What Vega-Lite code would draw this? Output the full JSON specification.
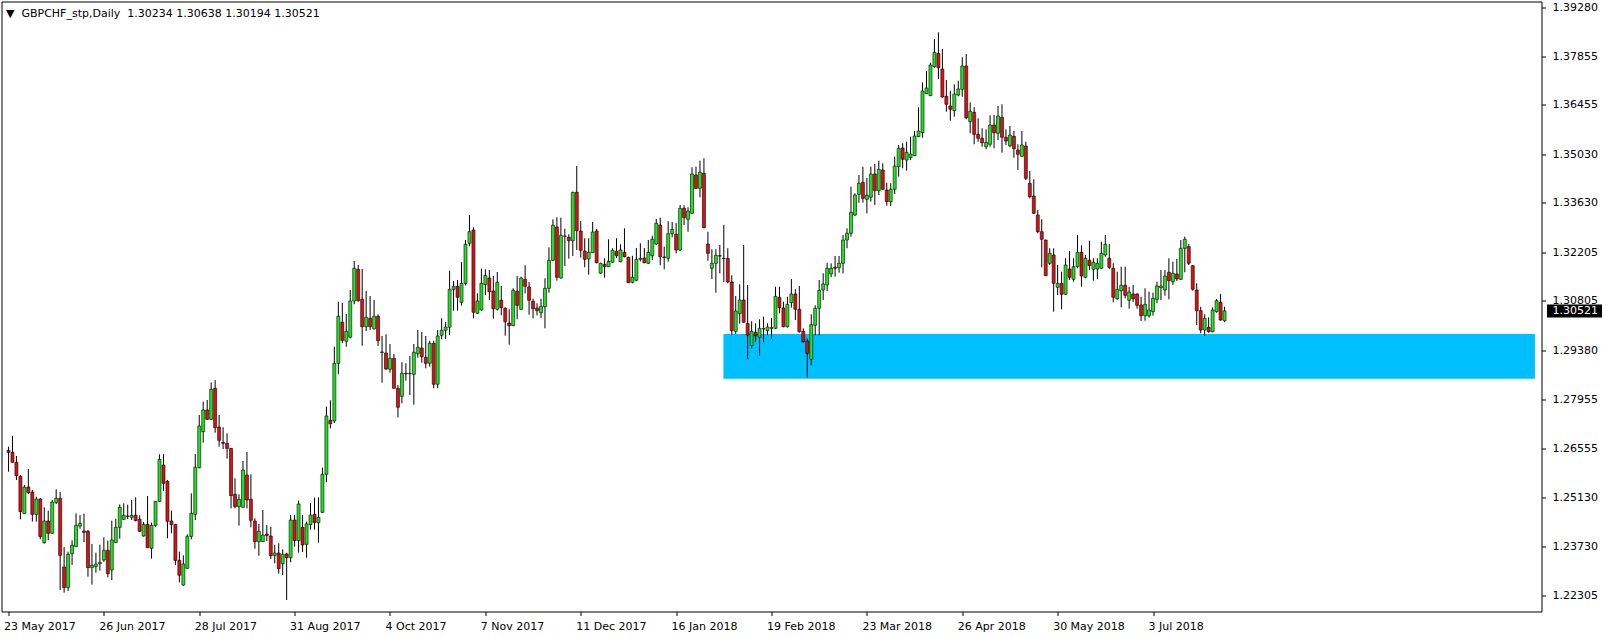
{
"$schema": "https://vega.github.io/schema/vega-lite/v6.json",
"autosize": {"type": "none"},
"padding": {"left": 1.5, "top": 1.5, "right": 62.5, "bottom": 26.5},
"width": 1540,
"height": 610,
"background": "white",
"config": {"view": {"stroke": "black", "strokeWidth": 1}},
"title": {"text": "▼\u00a0 GBPCHF_stp,Daily\u00a0 1.30234 1.30638 1.30194 1.30521", "anchor": "start", "frame": "group", "offset": -11, "dy": 13, "baseline": "middle", "dx": 4.5, "font": "DejaVu Sans", "fontSize": 11, "fontWeight": "normal", "color": "black"},
"datasets": {
"zone": [{"start": 179.9, "end": 384.1, "top": 1.29853, "bottom": 1.28564}],
"candles": [
{"i":0,"o":1.26499,"h":1.26604,"l":1.25883,"c":1.26441},
{"i":1,"o":1.26441,"h":1.26912,"l":1.26143,"c":1.26153},
{"i":2,"o":1.26153,"h":1.26335,"l":1.25643,"c":1.25768},
{"i":3,"o":1.25749,"h":1.25787,"l":1.24509,"c":1.24730},
{"i":4,"o":1.24673,"h":1.25499,"l":1.24663,"c":1.25441},
{"i":5,"o":1.25441,"h":1.25960,"l":1.25240,"c":1.25278},
{"i":6,"o":1.25297,"h":1.25355,"l":1.24442,"c":1.24653},
{"i":7,"o":1.24653,"h":1.25163,"l":1.24442,"c":1.25095},
{"i":8,"o":1.25095,"h":1.25124,"l":1.23933,"c":1.24010},
{"i":9,"o":1.23837,"h":1.24855,"l":1.23808,"c":1.24461},
{"i":10,"o":1.24461,"h":1.24759,"l":1.23913,"c":1.24106},
{"i":11,"o":1.24106,"h":1.25067,"l":1.24096,"c":1.25009},
{"i":12,"o":1.24999,"h":1.25374,"l":1.24951,"c":1.25115},
{"i":13,"o":1.25115,"h":1.25297,"l":1.22472,"c":1.23471},
{"i":14,"o":1.23135,"h":1.23712,"l":1.22395,"c":1.22539},
{"i":15,"o":1.22539,"h":1.23577,"l":1.22443,"c":1.23500},
{"i":16,"o":1.23519,"h":1.23904,"l":1.23193,"c":1.23760},
{"i":17,"o":1.23721,"h":1.24682,"l":1.23711,"c":1.24336},
{"i":18,"o":1.24317,"h":1.24634,"l":1.24240,"c":1.24394},
{"i":19,"o":1.24173,"h":1.24673,"l":1.23856,"c":1.24134},
{"i":20,"o":1.24163,"h":1.24202,"l":1.22856,"c":1.23116},
{"i":21,"o":1.23116,"h":1.23798,"l":1.22626,"c":1.23183},
{"i":22,"o":1.23145,"h":1.23548,"l":1.22972,"c":1.23222},
{"i":23,"o":1.23231,"h":1.23779,"l":1.23029,"c":1.23270},
{"i":24,"o":1.23337,"h":1.23990,"l":1.23279,"c":1.23616},
{"i":25,"o":1.23616,"h":1.23894,"l":1.22837,"c":1.22943},
{"i":26,"o":1.23048,"h":1.24471,"l":1.22760,"c":1.23913},
{"i":27,"o":1.23837,"h":1.24528,"l":1.23827,"c":1.24279},
{"i":28,"o":1.24279,"h":1.24942,"l":1.23952,"c":1.24855},
{"i":29,"o":1.24509,"h":1.24971,"l":1.24490,"c":1.24625},
{"i":30,"o":1.24596,"h":1.24932,"l":1.24519,"c":1.24605},
{"i":31,"o":1.24567,"h":1.25067,"l":1.24490,"c":1.24625},
{"i":32,"o":1.24625,"h":1.25143,"l":1.24452,"c":1.24471},
{"i":33,"o":1.24509,"h":1.24625,"l":1.24144,"c":1.24163},
{"i":34,"o":1.24029,"h":1.24432,"l":1.24010,"c":1.24365},
{"i":35,"o":1.24365,"h":1.25182,"l":1.23682,"c":1.23692},
{"i":36,"o":1.23673,"h":1.24413,"l":1.23375,"c":1.24336},
{"i":37,"o":1.24336,"h":1.25038,"l":1.24298,"c":1.25028},
{"i":38,"o":1.25028,"h":1.26383,"l":1.25009,"c":1.26239},
{"i":39,"o":1.26076,"h":1.26393,"l":1.25326,"c":1.25547},
{"i":40,"o":1.25605,"h":1.25643,"l":1.23961,"c":1.24452},
{"i":41,"o":1.24461,"h":1.24759,"l":1.24106,"c":1.24355},
{"i":42,"o":1.24365,"h":1.24375,"l":1.23193,"c":1.23327},
{"i":43,"o":1.23327,"h":1.23577,"l":1.22693,"c":1.22895},
{"i":44,"o":1.22616,"h":1.23471,"l":1.22597,"c":1.23222},
{"i":45,"o":1.23097,"h":1.24077,"l":1.23087,"c":1.24019},
{"i":46,"o":1.24019,"h":1.25259,"l":1.23933,"c":1.24682},
{"i":47,"o":1.24654,"h":1.26393,"l":1.24490,"c":1.26009},
{"i":48,"o":1.25999,"h":1.27517,"l":1.25980,"c":1.27200},
{"i":49,"o":1.27037,"h":1.27902,"l":1.26720,"c":1.27662},
{"i":50,"o":1.27662,"h":1.27950,"l":1.27373,"c":1.27392},
{"i":51,"o":1.27392,"h":1.28459,"l":1.27373,"c":1.28257},
{"i":52,"o":1.28286,"h":1.28526,"l":1.27008,"c":1.27152},
{"i":53,"o":1.27171,"h":1.27517,"l":1.26604,"c":1.26787},
{"i":54,"o":1.26729,"h":1.27162,"l":1.26537,"c":1.26701},
{"i":55,"o":1.26701,"h":1.26989,"l":1.26258,"c":1.26556},
{"i":56,"o":1.26556,"h":1.26566,"l":1.24827,"c":1.25192},
{"i":57,"o":1.25230,"h":1.25692,"l":1.24827,"c":1.24875},
{"i":58,"o":1.24875,"h":1.25230,"l":1.24327,"c":1.25086},
{"i":59,"o":1.24855,"h":1.26191,"l":1.24845,"c":1.25932},
{"i":60,"o":1.25788,"h":1.26451,"l":1.24827,"c":1.25067},
{"i":61,"o":1.25086,"h":1.25807,"l":1.24279,"c":1.24481},
{"i":62,"o":1.24461,"h":1.24538,"l":1.23664,"c":1.23866},
{"i":63,"o":1.23866,"h":1.24375,"l":1.23462,"c":1.24163},
{"i":64,"o":1.23866,"h":1.24779,"l":1.23856,"c":1.24058},
{"i":65,"o":1.24087,"h":1.24346,"l":1.23885,"c":1.24039},
{"i":66,"o":1.24029,"h":1.24298,"l":1.23366,"c":1.23462},
{"i":67,"o":1.23462,"h":1.23769,"l":1.23241,"c":1.23539},
{"i":68,"o":1.23539,"h":1.23818,"l":1.22943,"c":1.23087},
{"i":69,"o":1.23231,"h":1.23644,"l":1.22905,"c":1.23500},
{"i":70,"o":1.23510,"h":1.23548,"l":1.22184,"c":1.23404},
{"i":71,"o":1.23404,"h":1.24634,"l":1.23270,"c":1.24490},
{"i":72,"o":1.24490,"h":1.24634,"l":1.23721,"c":1.23894},
{"i":73,"o":1.23894,"h":1.25048,"l":1.23548,"c":1.24952},
{"i":74,"o":1.24279,"h":1.24634,"l":1.23568,"c":1.23769},
{"i":75,"o":1.23789,"h":1.24442,"l":1.23404,"c":1.24375},
{"i":76,"o":1.24356,"h":1.24971,"l":1.24212,"c":1.24634},
{"i":77,"o":1.24654,"h":1.25134,"l":1.24212,"c":1.24413},
{"i":78,"o":1.24413,"h":1.25144,"l":1.23837,"c":1.24567},
{"i":79,"o":1.24711,"h":1.25999,"l":1.24692,"c":1.25807},
{"i":80,"o":1.25807,"h":1.27758,"l":1.25576,"c":1.27489},
{"i":81,"o":1.27364,"h":1.27940,"l":1.27133,"c":1.27267},
{"i":82,"o":1.27345,"h":1.29487,"l":1.27287,"c":1.29008},
{"i":83,"o":1.29008,"h":1.30784,"l":1.28691,"c":1.30363},
{"i":84,"o":1.30190,"h":1.30746,"l":1.29585,"c":1.29671},
{"i":85,"o":1.29642,"h":1.30429,"l":1.29487,"c":1.29930},
{"i":86,"o":1.29757,"h":1.31121,"l":1.29728,"c":1.30804},
{"i":87,"o":1.30804,"h":1.31957,"l":1.30709,"c":1.31747},
{"i":88,"o":1.31718,"h":1.31842,"l":1.30784,"c":1.30813},
{"i":89,"o":1.30853,"h":1.31727,"l":1.29516,"c":1.30063},
{"i":90,"o":1.30063,"h":1.31093,"l":1.29939,"c":1.30334},
{"i":91,"o":1.30305,"h":1.30948,"l":1.29968,"c":1.30063},
{"i":92,"o":1.30006,"h":1.30833,"l":1.29977,"c":1.30363},
{"i":93,"o":1.30363,"h":1.30421,"l":1.29507,"c":1.29660},
{"i":94,"o":1.29334,"h":1.29795,"l":1.28449,"c":1.29325},
{"i":95,"o":1.29305,"h":1.29844,"l":1.28815,"c":1.28844},
{"i":96,"o":1.28835,"h":1.29565,"l":1.28737,"c":1.29152},
{"i":97,"o":1.29152,"h":1.29276,"l":1.28277,"c":1.28287},
{"i":98,"o":1.28287,"h":1.28383,"l":1.27451,"c":1.27740},
{"i":99,"o":1.28057,"h":1.29037,"l":1.27855,"c":1.28720},
{"i":100,"o":1.28700,"h":1.29008,"l":1.28507,"c":1.28720},
{"i":101,"o":1.28709,"h":1.29219,"l":1.28094,"c":1.28714},
{"i":102,"o":1.28691,"h":1.29565,"l":1.27815,"c":1.29325},
{"i":103,"o":1.29285,"h":1.29968,"l":1.29170,"c":1.29469},
{"i":104,"o":1.29449,"h":1.29911,"l":1.29025,"c":1.29198},
{"i":105,"o":1.29181,"h":1.29795,"l":1.28864,"c":1.29008},
{"i":106,"o":1.29008,"h":1.29660,"l":1.28910,"c":1.29585},
{"i":107,"o":1.29585,"h":1.29660,"l":1.28287,"c":1.28403},
{"i":108,"o":1.28403,"h":1.29968,"l":1.28287,"c":1.29795},
{"i":109,"o":1.29815,"h":1.30305,"l":1.29700,"c":1.29959},
{"i":110,"o":1.29959,"h":1.30199,"l":1.29709,"c":1.30055},
{"i":111,"o":1.30046,"h":1.31678,"l":1.29824,"c":1.31141},
{"i":112,"o":1.31141,"h":1.31381,"l":1.30525,"c":1.31228},
{"i":113,"o":1.31228,"h":1.31410,"l":1.30525,"c":1.30911},
{"i":114,"o":1.30767,"h":1.31928,"l":1.30669,"c":1.31314},
{"i":115,"o":1.31314,"h":1.32563,"l":1.31257,"c":1.32439},
{"i":116,"o":1.32468,"h":1.33284,"l":1.32381,"c":1.32802},
{"i":117,"o":1.32851,"h":1.32929,"l":1.30305,"c":1.30478},
{"i":118,"o":1.30449,"h":1.31026,"l":1.30429,"c":1.30804},
{"i":119,"o":1.30545,"h":1.31735,"l":1.30525,"c":1.31314},
{"i":120,"o":1.31274,"h":1.31718,"l":1.30977,"c":1.31545},
{"i":121,"o":1.31468,"h":1.31698,"l":1.30833,"c":1.31072},
{"i":122,"o":1.31093,"h":1.31525,"l":1.30294,"c":1.30582},
{"i":123,"o":1.30565,"h":1.31640,"l":1.30525,"c":1.31343},
{"i":124,"o":1.30824,"h":1.31237,"l":1.30392,"c":1.30611},
{"i":125,"o":1.30594,"h":1.30622,"l":1.29804,"c":1.30207},
{"i":126,"o":1.30170,"h":1.30565,"l":1.29545,"c":1.30092},
{"i":127,"o":1.30092,"h":1.31170,"l":1.30084,"c":1.31113},
{"i":128,"o":1.31084,"h":1.31525,"l":1.30277,"c":1.30680},
{"i":129,"o":1.30565,"h":1.31505,"l":1.30545,"c":1.31468},
{"i":130,"o":1.31430,"h":1.31833,"l":1.31026,"c":1.31228},
{"i":131,"o":1.31208,"h":1.31352,"l":1.30409,"c":1.30824},
{"i":132,"o":1.30795,"h":1.30870,"l":1.30305,"c":1.30582},
{"i":133,"o":1.30603,"h":1.30738,"l":1.30392,"c":1.30525},
{"i":134,"o":1.30467,"h":1.30870,"l":1.30314,"c":1.30651},
{"i":135,"o":1.30640,"h":1.31459,"l":1.30017,"c":1.31170},
{"i":136,"o":1.31170,"h":1.32352,"l":1.31044,"c":1.31978},
{"i":137,"o":1.31978,"h":1.33160,"l":1.31957,"c":1.32987},
{"i":138,"o":1.32938,"h":1.33217,"l":1.31390,"c":1.31488},
{"i":139,"o":1.31468,"h":1.33206,"l":1.31447,"c":1.32698},
{"i":140,"o":1.32670,"h":1.32889,"l":1.31813,"c":1.32678},
{"i":141,"o":1.32641,"h":1.32727,"l":1.32024,"c":1.32543},
{"i":142,"o":1.32543,"h":1.33955,"l":1.32102,"c":1.33938},
{"i":143,"o":1.33938,"h":1.34696,"l":1.32274,"c":1.32831},
{"i":144,"o":1.32822,"h":1.33111,"l":1.32053,"c":1.32266},
{"i":145,"o":1.32246,"h":1.32612,"l":1.31776,"c":1.32006},
{"i":146,"o":1.32015,"h":1.32612,"l":1.31562,"c":1.32208},
{"i":147,"o":1.32197,"h":1.33082,"l":1.32188,"c":1.32793},
{"i":148,"o":1.32822,"h":1.32880,"l":1.31891,"c":1.31908},
{"i":149,"o":1.31605,"h":1.31908,"l":1.31583,"c":1.31891},
{"i":150,"o":1.31862,"h":1.32035,"l":1.31476,"c":1.31793},
{"i":151,"o":1.31793,"h":1.32583,"l":1.31783,"c":1.31949},
{"i":152,"o":1.31920,"h":1.32324,"l":1.31908,"c":1.32266},
{"i":153,"o":1.32237,"h":1.32612,"l":1.32044,"c":1.32110},
{"i":154,"o":1.31937,"h":1.32439,"l":1.31920,"c":1.32275},
{"i":155,"o":1.32208,"h":1.32900,"l":1.32064,"c":1.32081},
{"i":156,"o":1.32064,"h":1.32081,"l":1.31322,"c":1.31332},
{"i":157,"o":1.31343,"h":1.32110,"l":1.31314,"c":1.31488},
{"i":158,"o":1.31401,"h":1.32332,"l":1.31372,"c":1.32006},
{"i":159,"o":1.32006,"h":1.32468,"l":1.31949,"c":1.32035},
{"i":160,"o":1.32044,"h":1.32332,"l":1.31891,"c":1.31908},
{"i":161,"o":1.31891,"h":1.32563,"l":1.31871,"c":1.32208},
{"i":162,"o":1.32110,"h":1.32687,"l":1.31986,"c":1.32583},
{"i":163,"o":1.32447,"h":1.33168,"l":1.32419,"c":1.33044},
{"i":164,"o":1.32995,"h":1.33206,"l":1.31833,"c":1.32081},
{"i":165,"o":1.32073,"h":1.32370,"l":1.31718,"c":1.32063},
{"i":166,"o":1.32035,"h":1.33102,"l":1.31937,"c":1.32744},
{"i":167,"o":1.32744,"h":1.33082,"l":1.32641,"c":1.32871},
{"i":168,"o":1.32727,"h":1.33053,"l":1.32179,"c":1.32275},
{"i":169,"o":1.32275,"h":1.33572,"l":1.32246,"c":1.33477},
{"i":170,"o":1.33477,"h":1.33563,"l":1.32995,"c":1.33206},
{"i":171,"o":1.33160,"h":1.33506,"l":1.32802,"c":1.33399},
{"i":172,"o":1.33333,"h":1.34659,"l":1.33312,"c":1.34466},
{"i":173,"o":1.34437,"h":1.34676,"l":1.34033,"c":1.34053},
{"i":174,"o":1.34053,"h":1.34849,"l":1.33794,"c":1.34515},
{"i":175,"o":1.34486,"h":1.34918,"l":1.32900,"c":1.32917},
{"i":176,"o":1.32447,"h":1.32800,"l":1.31966,"c":1.32179},
{"i":177,"o":1.31747,"h":1.32295,"l":1.31439,"c":1.31891},
{"i":178,"o":1.31891,"h":1.32295,"l":1.31044,"c":1.32122},
{"i":179,"o":1.32110,"h":1.32419,"l":1.31603,"c":1.32100},
{"i":180,"o":1.32035,"h":1.32995,"l":1.31352,"c":1.32030},
{"i":181,"o":1.32035,"h":1.32324,"l":1.31314,"c":1.31352},
{"i":182,"o":1.31352,"h":1.31545,"l":1.29833,"c":1.29948},
{"i":183,"o":1.29930,"h":1.30948,"l":1.29853,"c":1.30516},
{"i":184,"o":1.30438,"h":1.31286,"l":1.30150,"c":1.30833},
{"i":185,"o":1.30833,"h":1.32419,"l":1.30180,"c":1.30190},
{"i":186,"o":1.30161,"h":1.31266,"l":1.29124,"c":1.29824},
{"i":187,"o":1.29516,"h":1.30219,"l":1.29441,"c":1.29930},
{"i":188,"o":1.29902,"h":1.30161,"l":1.29631,"c":1.29804},
{"i":189,"o":1.29757,"h":1.30277,"l":1.29227,"c":1.30017},
{"i":190,"o":1.29997,"h":1.30352,"l":1.29614,"c":1.30006},
{"i":191,"o":1.29948,"h":1.30161,"l":1.29824,"c":1.30055},
{"i":192,"o":1.30017,"h":1.30314,"l":1.29709,"c":1.30035},
{"i":193,"o":1.30017,"h":1.31216,"l":1.29997,"c":1.30940},
{"i":194,"o":1.30911,"h":1.31216,"l":1.30449,"c":1.30611},
{"i":195,"o":1.30603,"h":1.30784,"l":1.30046,"c":1.30063},
{"i":196,"o":1.30063,"h":1.30928,"l":1.30036,"c":1.30709},
{"i":197,"o":1.30755,"h":1.31439,"l":1.30611,"c":1.31006},
{"i":198,"o":1.31006,"h":1.31141,"l":1.30256,"c":1.30565},
{"i":199,"o":1.30565,"h":1.31237,"l":1.29890,"c":1.29919},
{"i":200,"o":1.29930,"h":1.30017,"l":1.29602,"c":1.29631},
{"i":201,"o":1.29651,"h":1.29728,"l":1.28605,"c":1.29296},
{"i":202,"o":1.29124,"h":1.30421,"l":1.28951,"c":1.30121},
{"i":203,"o":1.30104,"h":1.30680,"l":1.29815,"c":1.30594},
{"i":204,"o":1.30594,"h":1.31410,"l":1.29815,"c":1.31113},
{"i":205,"o":1.31121,"h":1.31603,"l":1.30833,"c":1.31294},
{"i":206,"o":1.31266,"h":1.31908,"l":1.31093,"c":1.31747},
{"i":207,"o":1.31583,"h":1.31891,"l":1.31488,"c":1.31747},
{"i":208,"o":1.31776,"h":1.32102,"l":1.31505,"c":1.31747},
{"i":209,"o":1.31764,"h":1.32102,"l":1.31620,"c":1.31891},
{"i":210,"o":1.31891,"h":1.32707,"l":1.31603,"c":1.32563},
{"i":211,"o":1.32563,"h":1.32900,"l":1.32324,"c":1.32756},
{"i":212,"o":1.32756,"h":1.34099,"l":1.32658,"c":1.33361},
{"i":213,"o":1.33284,"h":1.33909,"l":1.33255,"c":1.33860},
{"i":214,"o":1.33880,"h":1.34437,"l":1.33638,"c":1.34197},
{"i":215,"o":1.34226,"h":1.34676,"l":1.33638,"c":1.33765},
{"i":216,"o":1.33736,"h":1.34350,"l":1.33333,"c":1.33852},
{"i":217,"o":1.33794,"h":1.34676,"l":1.33667,"c":1.34466},
{"i":218,"o":1.34466,"h":1.34754,"l":1.33572,"c":1.33984},
{"i":219,"o":1.33984,"h":1.34849,"l":1.33860,"c":1.34601},
{"i":220,"o":1.34581,"h":1.34774,"l":1.34004,"c":1.34025},
{"i":221,"o":1.34004,"h":1.34215,"l":1.33552,"c":1.33667},
{"i":222,"o":1.33667,"h":1.34197,"l":1.33543,"c":1.34025},
{"i":223,"o":1.34025,"h":1.34964,"l":1.33889,"c":1.34696},
{"i":224,"o":1.34676,"h":1.35302,"l":1.34388,"c":1.35207},
{"i":225,"o":1.35215,"h":1.35351,"l":1.34630,"c":1.34889},
{"i":226,"o":1.34869,"h":1.35397,"l":1.34561,"c":1.35091},
{"i":227,"o":1.34935,"h":1.35541,"l":1.34869,"c":1.35042},
{"i":228,"o":1.34993,"h":1.35705,"l":1.34985,"c":1.35561},
{"i":229,"o":1.35541,"h":1.36389,"l":1.35531,"c":1.35705},
{"i":230,"o":1.35656,"h":1.37109,"l":1.35512,"c":1.36858},
{"i":231,"o":1.36781,"h":1.37435,"l":1.36772,"c":1.36945},
{"i":232,"o":1.36723,"h":1.37674,"l":1.36714,"c":1.37608},
{"i":233,"o":1.37559,"h":1.38358,"l":1.37530,"c":1.37974},
{"i":234,"o":1.37945,"h":1.38551,"l":1.37204,"c":1.37530},
{"i":235,"o":1.37493,"h":1.38069,"l":1.36665,"c":1.36685},
{"i":236,"o":1.36706,"h":1.37176,"l":1.36262,"c":1.36475},
{"i":237,"o":1.36426,"h":1.36867,"l":1.36002,"c":1.36331},
{"i":238,"o":1.36291,"h":1.37052,"l":1.36118,"c":1.36772},
{"i":239,"o":1.36743,"h":1.37155,"l":1.36706,"c":1.36916},
{"i":240,"o":1.36908,"h":1.37830,"l":1.36694,"c":1.37579},
{"i":241,"o":1.37579,"h":1.37925,"l":1.36043,"c":1.36089},
{"i":242,"o":1.35973,"h":1.36533,"l":1.35639,"c":1.36273},
{"i":243,"o":1.36244,"h":1.36389,"l":1.35322,"c":1.35610},
{"i":244,"o":1.35610,"h":1.36071,"l":1.35397,"c":1.35495},
{"i":245,"o":1.35495,"h":1.35783,"l":1.35253,"c":1.35368},
{"i":246,"o":1.35253,"h":1.35754,"l":1.35178,"c":1.35379},
{"i":247,"o":1.35322,"h":1.36158,"l":1.35253,"c":1.35878},
{"i":248,"o":1.35878,"h":1.36167,"l":1.35206,"c":1.35656},
{"i":249,"o":1.35639,"h":1.36426,"l":1.35446,"c":1.36138},
{"i":250,"o":1.36100,"h":1.36475,"l":1.35080,"c":1.35524},
{"i":251,"o":1.35524,"h":1.35754,"l":1.35302,"c":1.35417},
{"i":252,"o":1.35281,"h":1.35850,"l":1.35235,"c":1.35590},
{"i":253,"o":1.35552,"h":1.35705,"l":1.34935,"c":1.35195},
{"i":254,"o":1.35157,"h":1.35322,"l":1.34581,"c":1.35034},
{"i":255,"o":1.34976,"h":1.35705,"l":1.34964,"c":1.35302},
{"i":256,"o":1.35273,"h":1.35397,"l":1.34293,"c":1.34342},
{"i":257,"o":1.34197,"h":1.34552,"l":1.33765,"c":1.33811},
{"i":258,"o":1.33831,"h":1.34313,"l":1.33312,"c":1.33333},
{"i":259,"o":1.33284,"h":1.33428,"l":1.32756,"c":1.32802},
{"i":260,"o":1.32802,"h":1.33160,"l":1.31776,"c":1.32583},
{"i":261,"o":1.32563,"h":1.32573,"l":1.31523,"c":1.31533},
{"i":262,"o":1.31891,"h":1.32324,"l":1.31842,"c":1.32179},
{"i":263,"o":1.32130,"h":1.32324,"l":1.30496,"c":1.31314},
{"i":264,"o":1.31199,"h":1.31842,"l":1.30977,"c":1.31314},
{"i":265,"o":1.31314,"h":1.31649,"l":1.30565,"c":1.30997},
{"i":266,"o":1.30997,"h":1.32035,"l":1.30977,"c":1.31842},
{"i":267,"o":1.31727,"h":1.32246,"l":1.31410,"c":1.31488},
{"i":268,"o":1.31430,"h":1.32035,"l":1.31361,"c":1.31793},
{"i":269,"o":1.31793,"h":1.32707,"l":1.31747,"c":1.32208},
{"i":270,"o":1.32208,"h":1.32410,"l":1.31216,"c":1.31525},
{"i":271,"o":1.31488,"h":1.32130,"l":1.31459,"c":1.32035},
{"i":272,"o":1.31978,"h":1.32543,"l":1.31698,"c":1.31822},
{"i":273,"o":1.31718,"h":1.32035,"l":1.31390,"c":1.31920},
{"i":274,"o":1.31727,"h":1.32035,"l":1.31439,"c":1.31891},
{"i":275,"o":1.31747,"h":1.32514,"l":1.31727,"c":1.32179},
{"i":276,"o":1.32130,"h":1.32707,"l":1.32081,"c":1.32439},
{"i":277,"o":1.32035,"h":1.32447,"l":1.31727,"c":1.31776},
{"i":278,"o":1.31747,"h":1.31891,"l":1.30767,"c":1.30911},
{"i":279,"o":1.30870,"h":1.31649,"l":1.30833,"c":1.31141},
{"i":280,"o":1.31101,"h":1.31793,"l":1.30622,"c":1.31257},
{"i":281,"o":1.31257,"h":1.31793,"l":1.30882,"c":1.30968},
{"i":282,"o":1.30824,"h":1.31216,"l":1.30582,"c":1.31064},
{"i":283,"o":1.31006,"h":1.31266,"l":1.30775,"c":1.30870},
{"i":284,"o":1.31006,"h":1.31026,"l":1.30582,"c":1.30680},
{"i":285,"o":1.30689,"h":1.30928,"l":1.30228,"c":1.30380},
{"i":286,"o":1.30380,"h":1.31170,"l":1.30236,"c":1.30709},
{"i":287,"o":1.30380,"h":1.31073,"l":1.30323,"c":1.30545},
{"i":288,"o":1.30496,"h":1.31044,"l":1.30380,"c":1.30882},
{"i":289,"o":1.30853,"h":1.31361,"l":1.30738,"c":1.31237},
{"i":290,"o":1.31188,"h":1.31698,"l":1.30833,"c":1.31237},
{"i":291,"o":1.31121,"h":1.31698,"l":1.30957,"c":1.31525},
{"i":292,"o":1.31632,"h":1.32035,"l":1.30853,"c":1.31390},
{"i":293,"o":1.31361,"h":1.31937,"l":1.31266,"c":1.31603},
{"i":294,"o":1.31583,"h":1.32015,"l":1.31381,"c":1.31439},
{"i":295,"o":1.31430,"h":1.32563,"l":1.31410,"c":1.32324},
{"i":296,"o":1.32324,"h":1.32658,"l":1.31632,"c":1.32583},
{"i":297,"o":1.32370,"h":1.32447,"l":1.31842,"c":1.31891},
{"i":298,"o":1.31822,"h":1.31842,"l":1.31101,"c":1.31141},
{"i":299,"o":1.31121,"h":1.31314,"l":1.30112,"c":1.30525},
{"i":300,"o":1.30525,"h":1.30640,"l":1.29873,"c":1.29968},
{"i":301,"o":1.29968,"h":1.30421,"l":1.29795,"c":1.30305},
{"i":302,"o":1.30046,"h":1.30334,"l":1.29890,"c":1.29919},
{"i":303,"o":1.29919,"h":1.30622,"l":1.29902,"c":1.30545},
{"i":304,"o":1.30496,"h":1.30862,"l":1.30467,"c":1.30813},
{"i":305,"o":1.30767,"h":1.31006,"l":1.30236,"c":1.30256},
{"i":306,"o":1.30234,"h":1.30638,"l":1.30194,"c":1.30521}
]
},
"layer": [
{
"data": {"name": "zone"},
"mark": {"type": "rect", "color": "#00bfff"},
"encoding": {
"x": {"field": "start", "type": "quantitative", "scale": {"domain": [-0.5, 384.5], "nice": false, "zero": false},
"axis": {"title": null, "values": [0,24,48,72,96,120,144,168,192,216,240,264,288], "labelExpr": "['23 May 2017','26 Jun 2017','28 Jul 2017','31 Aug 2017','4 Oct 2017','7 Nov 2017','11 Dec 2017','16 Jan 2018','19 Feb 2018','23 Mar 2018','26 Apr 2018','30 May 2018','3 Jul 2018'][round(datum.value/24)]", "domain": false, "grid": false, "tickSize": 4, "tickColor": "black", "labelAlign": "left", "labelBaseline": "top", "labelPadding": 5, "labelOffset": -5, "labelFont": "DejaVu Sans", "labelFontSize": 11, "labelColor": "black", "labelOverlap": false, "labelBound": false, "labelFlush": false}},
"x2": {"field": "end"},
"y": {"field": "top", "type": "quantitative", "scale": {"domain": [1.21852, 1.39439], "nice": false, "zero": false},
"axis": {"orient": "right", "title": null, "values": [1.22305,1.2373,1.2513,1.26555,1.27955,1.2938,1.30805,1.32205,1.3363,1.3503,1.36455,1.37855,1.3928,1.30521], "format": ".5f", "domain": false, "grid": false, "labelOverlap": false, "labelBound": false, "labelFlush": false, "labelFont": "DejaVu Sans", "labelFontSize": 11, "tickColor": "black",
"tickSize": {"condition": {"test": "abs(datum.value - 1.30521) < 0.0000001", "value": 60}, "value": 4},
"tickWidth": {"condition": {"test": "abs(datum.value - 1.30521) < 0.0000001", "value": 13}, "value": 1},
"tickDash": {"condition": {"test": "abs(datum.value - 1.30521) < 0.0000001", "value": [0, 5, 60, 0]}, "value": []},
"labelColor": {"condition": {"test": "abs(datum.value - 1.30521) < 0.0000001", "value": "white"}, "value": "black"},
"labelPadding": {"condition": {"test": "abs(datum.value - 1.30521) < 0.0000001", "value": -49.5}, "value": 6.5}}},
"y2": {"field": "bottom"}
}
},
{
"data": {"name": "candles"},
"mark": {"type": "rule", "color": "black", "strokeWidth": 1},
"encoding": {
"x": {"field": "i", "type": "quantitative", "scale": {"domain": [-0.5, 384.5], "nice": false, "zero": false}, "axis": {"title": null}},
"y": {"field": "l", "type": "quantitative", "scale": {"domain": [1.21852, 1.39439], "nice": false, "zero": false}, "axis": {"title": null}},
"y2": {"field": "h"}
}
},
{
"data": {"name": "candles"},
"mark": {"type": "bar", "orient": "vertical", "size": 3, "stroke": "black", "strokeWidth": 0.6},
"encoding": {
"x": {"field": "i", "type": "quantitative", "scale": {"domain": [-0.5, 384.5], "nice": false, "zero": false}, "axis": {"title": null}},
"y": {"field": "o", "type": "quantitative", "scale": {"domain": [1.21852, 1.39439], "nice": false, "zero": false}, "axis": {"title": null}},
"y2": {"field": "c"},
"fill": {"condition": {"test": "datum.c > datum.o", "value": "#1ee61e"}, "value": "#dd1111"}
}
}
]
}
